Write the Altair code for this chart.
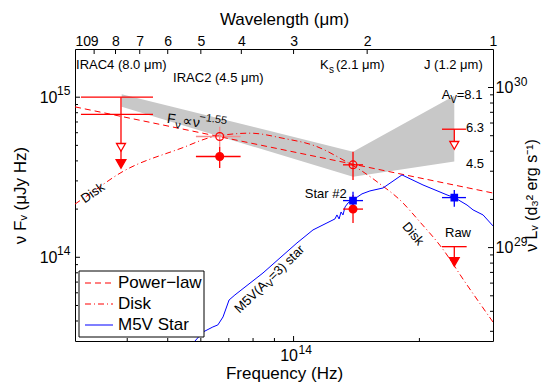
import altair as alt
import pandas as pd

RED = "#ff0000"
BLUE = "#0000ff"
PINK = "#f38d8d"
GRAY = "#c8c8c8"
FONT = "Liberation Sans"

# ---------------- data (frequency in Hz, nuFnu in uJy Hz) ----------------
pl_nu = [3.0e13, 3.0e14]
pl_f = [8.70e14, 2.52e14]

disk_nu = [3.0e13, 3.205e13, 3.887e13, 5.41e13, 6.41e13, 7.87e13, 9.43e13, 1.138e14,
           1.313e14, 1.442e14, 1.610e14, 1.797e14, 2.007e14, 2.265e14, 2.571e14, 3.0e14]
disk_f = [2.15e14, 2.42e14, 3.41e14, 4.82e14, 5.65e14, 5.96e14, 5.54e14, 4.91e14,
          4.06e14, 3.52e14, 2.87e14, 2.28e14, 1.66e14, 1.143e14, 7.01e13, 3.94e13]

star_nu = [5.65e13, 5.81e13, 6.07e13, 6.41e13, 6.59e13, 6.78e13, 7.01e13, 7.24e13, 8.45e13,
           9.28e13, 1.019e14, 1.113e14, 1.202e14, 1.256e14, 1.270e14, 1.285e14, 1.299e14,
           1.313e14, 1.328e14, 1.350e14, 1.387e14, 1.458e14, 1.523e14, 1.637e14, 1.817e14,
           2.040e14, 2.329e14, 2.433e14, 2.600e14, 2.688e14, 2.840e14, 3.0e14]
star_f = [2.64e13, 3.0e13, 3.41e13, 3.67e13, 3.78e13, 4.24e13, 5.41e13, 5.82e13, 7.98e13,
          9.91e13, 1.229e14, 1.482e14, 1.639e14, 1.736e14, 1.839e14, 1.736e14, 1.919e14,
          1.839e14, 2.063e14, 2.186e14, 2.28e14, 2.49e14, 2.597e14, 2.71e14, 3.27e14,
          2.83e14, 2.452e14, 2.35e14, 2.12e14, 1.977e14, 1.839e14, 1.57e14]

band_nu = [3.88e13, 1.3875e14, 2.424e14]
band_lo = [8.72e14, 3.18e14, 3.96e14]
band_hi = [1.045e15, 4.57e14, 1.02e15]

# horizontal bars: nu_lo, nu_hi, value, colour
hb_lo = [3.10e13, 3.10e13, 5.84e13, 5.84e13, 1.313e14, 1.313e14, 2.265e14, 2.265e14, 1.313e14, 2.265e14]
hb_hi = [4.61e13, 4.61e13, 7.47e13, 7.47e13, 1.466e14, 1.466e14, 2.585e14, 2.595e14, 1.466e14, 2.585e14]
hb_f = [1.0e15, 7.8e14, 5.68e14, 4.26e14, 3.78e14, 2.0e14, 6.31e14, 1.165e14, 2.26e14, 2.36e14]
hb_c = [RED, RED, PINK, RED, RED, RED, RED, RED, BLUE, BLUE]

# vertical bars: nu, top, bottom, colour
vb_nu = [3.865e13, 6.657e13, 6.657e13, 1.3875e14, 1.3875e14, 2.424e14, 2.424e14, 1.3875e14, 2.424e14]
vb_hi = [1.0e15, 6.53e14, 4.89e14, 4.57e14, 2.45e14, 6.31e14, 1.165e14, 2.57e14, 2.635e14]
vb_lo = [3.9e14, 4.89e14, 3.61e14, 3.04e14, 1.64e14, 5.0e14, 9.4e13, 2.0e14, 2.07e14]
vb_c = [RED, PINK, RED, RED, RED, RED, RED, BLUE, BLUE]

# markers
mk_nu = [6.657e13, 1.3875e14, 6.657e13, 1.3875e14, 3.865e13, 2.424e14, 3.865e13, 2.424e14, 1.3875e14, 2.424e14]
mk_f = [5.68e14, 3.78e14, 4.26e14, 2.0e14, 4.86e14, 5.0e14, 3.83e14, 9.36e13, 2.26e14, 2.36e14]
mk_shape = ["circle", "circle", "circle", "circle", "triangle-down", "triangle-down",
            "triangle-down", "triangle-down", "square", "square"]
mk_fill = ["transparent", "transparent", RED, RED, "white", "white", RED, RED, BLUE, BLUE]
mk_stroke = [RED, RED, RED, RED, RED, RED, RED, RED, BLUE, BLUE]
mk_size = [60, 60, 60, 60, 80, 80, 95, 95, 40, 40]

# axis ticks
bottom_minor = [4e13, 5e13, 6e13, 7e13, 8e13, 9e13, 2e14]
bottom_major = [1e14]
left_minor = [4e13, 5e13, 6e13, 7e13, 8e13, 9e13, 2e14, 3e14, 4e14, 5e14, 6e14, 7e14, 8e14, 9e14]
left_major = [1e14, 1e15]
right_minor = [3e28, 4e28, 5e28, 6e28, 7e28, 8e28, 9e28, 2e29, 3e29, 4e29, 5e29, 6e29, 7e29, 8e29, 9e29]
right_major = [1e29, 1e30]
top_ticks = [9, 8, 7, 6, 5, 4, 3, 2]
top_labels = [10, 9, 8, 7, 6, 5, 4, 3, 2, 1]

# annotations: nu, f, text, size, align, angle, dx, dy
annotations = [
    (3.017e13, 1.59e15, "IRAC4 (8.0 μm)", 13, "left", 0, 0, 0),
    (5.15e13, 1.32e15, "IRAC2 (4.5 μm)", 13, "left", 0, 0, 0),
    (1.157e14, 1.59e15, "K", 13, "left", 0, 0, 0),
    (1.157e14, 1.59e15, "s", 10, "left", 0, 9, 5),
    (1.157e14, 1.59e15, "(2.1 μm)", 13, "left", 0, 16, 0),
    (2.051e14, 1.59e15, "J (1.2 μm)", 13, "left", 0, 0, 0),
    (2.262e14, 1.034e15, "A", 13, "left", 0, 0, 0),
    (2.262e14, 1.034e15, "V", 10, "left", 0, 8.5, 5),
    (2.262e14, 1.034e15, "=8.1", 13, "left", 0, 15, 0),
    (2.585e14, 6.40e14, "6.3", 13, "left", 0, 0, 0),
    (2.585e14, 3.81e14, "4.5", 13, "left", 0, 0, 0),
    (1.340e14, 2.49e14, "Star #2", 13, "right", 0, 0, 0),
    (2.474e14, 1.42e14, "Raw", 13, "center", 0, 0, 0),
    (3.31e13, 2.52e14, "Disk", 13, "center", 325, 0, 0),
    (1.931e14, 1.40e14, "Disk", 13, "center", 50, 0, 0),
    (7.31e13, 4.62e13, "M5V(A", 13, "left", 316, 0, 0),
    (7.31e13, 4.62e13, "V", 10, "left", 316, 40, 4),
    (7.31e13, 4.62e13, "=3) star", 13, "left", 316, 47, 0),
    (4.98e13, 7.32e14, "F", 14, "left", 8, 0, 0),
    (4.98e13, 7.32e14, "ν", 11, "left", 8, 9, 5),
    (4.98e13, 7.32e14, "∝ν", 14, "left", 8, 16, 0),
    (4.98e13, 7.32e14, "−1.55", 11, "left", 8, 32, -6),
]

W, H = 418, 292

# ---------------- scales / axes ----------------
xs = alt.Scale(type="log", domain=[3e13, 3e14], nice=False)
ys = alt.Scale(type="log", domain=[3e13, 2e15], nice=False)
rs = alt.Scale(type="log", domain=[2.61e28, 1.74e30], nice=False)
ts = alt.Scale(type="log", domain=[1, 10], reverse=True, nice=False)

xaxis = alt.Axis(values=[1e14], labelExpr="'10'", title="Frequency (Hz)", labelPadding=6,
                 labelOffset=-5, labelFontSize=16, titleFontSize=17, titlePadding=2,
                 labelFlush=False, orient="bottom")
yaxis = alt.Axis(values=[1e14, 1e15], labelExpr="'10'", title="ν Fᵥ (μJy Hz)", labelPadding=18,
                 labelFontSize=16, titleFontSize=17, titlePadding=10, labelFlush=False, orient="left")
raxis = alt.Axis(values=[1e29, 1e30], labelExpr="'10'", title="ν Lᵥ (d₃² erg s⁻¹)", labelPadding=2,
                 labelFontSize=16, titleFontSize=16, titlePadding=27, titleAngle=270,
                 labelFlush=False, orient="right")
taxis = alt.Axis(values=top_labels, format="d", title="Wavelength (μm)", labelPadding=1,
                 labelFontSize=14, titleFontSize=17, titlePadding=6, labelFlush=False,
                 labelOverlap=False, orient="top",
                 labelAlign={"condition": {"test": "datum.value == 10", "value": "left"}, "value": "center"})


def X(f="nu"):
    return alt.X(f"{f}:Q", scale=xs, axis=xaxis)


def Y(f="f"):
    return alt.Y(f"{f}:Q", scale=ys, axis=yaxis)


# ---------------- main layers ----------------
band = alt.Chart(pd.DataFrame({"nu": band_nu, "lo": band_lo, "hi": band_hi})).mark_area(
    color=GRAY, opacity=1, clip=True).encode(x=X(), y=Y("lo"), y2=alt.Y2("hi:Q"))

pl_line = alt.Chart(pd.DataFrame({"nu": pl_nu, "f": pl_f})).mark_line(
    color=RED, strokeDash=[6, 4], strokeWidth=1, clip=True).encode(x=X(), y=Y())
disk_line = alt.Chart(pd.DataFrame({"nu": disk_nu, "f": disk_f})).mark_line(
    color=RED, strokeDash=[6, 3, 1, 3], strokeWidth=1, clip=True, interpolate="monotone").encode(x=X(), y=Y())
star_line = alt.Chart(pd.DataFrame({"nu": star_nu, "f": star_f})).mark_line(
    color=BLUE, strokeWidth=1, clip=True).encode(x=X(), y=Y())

hbars = alt.Chart(pd.DataFrame({"lo": hb_lo, "hi": hb_hi, "f": hb_f, "c": hb_c})).mark_rule(
    strokeWidth=1.3).encode(x=X("lo"), x2=alt.X2("hi:Q"), y=Y(), color=alt.Color("c:N", scale=None))
vbars = alt.Chart(pd.DataFrame({"nu": vb_nu, "hi": vb_hi, "lo": vb_lo, "c": vb_c})).mark_rule(
    strokeWidth=1.3).encode(x=X(), y=Y("hi"), y2=alt.Y2("lo:Q"), color=alt.Color("c:N", scale=None))

markers = alt.Chart(pd.DataFrame({"nu": mk_nu, "f": mk_f, "shape": mk_shape, "fill": mk_fill,
                                  "stroke": mk_stroke, "size": mk_size})).mark_point(
    strokeWidth=1.3, opacity=1).encode(
    x=X(), y=Y(),
    shape=alt.Shape("shape:N", scale=None),
    fill=alt.Fill("fill:N", scale=None),
    stroke=alt.Stroke("stroke:N", scale=None),
    size=alt.Size("size:Q", scale=None))

ann_layers = []
for nu, f, s, size, align, angle, dx, dy in annotations:
    ann_layers.append(
        alt.Chart(pd.DataFrame({"nu": [nu], "f": [f], "t": [s]})).mark_text(
            align=align, baseline="middle", fontSize=size, angle=angle, dx=dx, dy=dy,
            color="black", font=FONT).encode(x=X(), y=Y(), text="t:N"))

# ticks (inward)
bt_min = alt.Chart(pd.DataFrame({"v": bottom_minor})).mark_rule(color="black").encode(
    x=X("v"), y=alt.value(H), y2=alt.value(H - 3))
bt_maj = alt.Chart(pd.DataFrame({"v": bottom_major})).mark_rule(color="black").encode(
    x=X("v"), y=alt.value(H), y2=alt.value(H - 5))
lt_min = alt.Chart(pd.DataFrame({"v": left_minor})).mark_rule(color="black").encode(
    y=Y("v"), x=alt.value(0), x2=alt.value(3))
lt_maj = alt.Chart(pd.DataFrame({"v": left_major})).mark_rule(color="black").encode(
    y=Y("v"), x=alt.value(0), x2=alt.value(5))

# exponents of axis labels
lexp = alt.Chart(pd.DataFrame({"v": [1e14, 1e15], "e": ["14", "15"]})).mark_text(
    align="left", baseline="middle", fontSize=12, dy=-6, font=FONT, color="black").encode(
    y=Y("v"), x=alt.value(-18), text="e:N")
bexp = alt.Chart(pd.DataFrame({"v": [1e14], "e": ["14"]})).mark_text(
    align="left", baseline="middle", fontSize=12, dx=5, font=FONT, color="black").encode(
    x=X("v"), y=alt.value(H + 9), text="e:N")

# legend (box + entries)
legend_box = alt.Chart(pd.DataFrame({"a": [0]})).mark_rect(
    fill="white", stroke="black", strokeWidth=1).encode(
    x=alt.value(4), x2=alt.value(129), y=alt.value(222), y2=alt.value(288))
leg_labels = ["Power−law", "Disk", "M5V Star"]
leg_colors = [RED, RED, BLUE]
leg_dash = [[6, 4], [6, 3, 1, 3], [1, 0]]
leg_y = [234, 255, 276]
leg_layers = []
for lab, col, dash, yy in zip(leg_labels, leg_colors, leg_dash, leg_y):
    d = pd.DataFrame({"a": [0]})
    leg_layers.append(alt.Chart(d).mark_rule(color=col, strokeDash=dash, strokeWidth=1.2).encode(
        x=alt.value(10), x2=alt.value(38), y=alt.value(yy)))
    leg_layers.append(alt.Chart(d).mark_text(align="left", baseline="middle", fontSize=17,
                                             font=FONT, color="black").encode(
        x=alt.value(43), y=alt.value(yy), text=alt.value(lab)))

main = alt.layer(band, pl_line, disk_line, star_line, hbars, vbars, markers,
                 bt_min, bt_maj, lt_min, lt_maj, lexp, bexp, *ann_layers,
                 legend_box, *leg_layers)

# right axis (nu L_nu)
RY = lambda f="v": alt.Y(f"{f}:Q", scale=rs, axis=raxis)
rt_min = alt.Chart(pd.DataFrame({"v": right_minor})).mark_rule(color="black").encode(
    y=RY(), x=alt.value(W), x2=alt.value(W - 3))
rt_maj = alt.Chart(pd.DataFrame({"v": right_major})).mark_rule(color="black").encode(
    y=RY(), x=alt.value(W), x2=alt.value(W - 5))
rexp = alt.Chart(pd.DataFrame({"v": [1e29, 1e30], "e": ["29", "30"]})).mark_text(
    align="left", baseline="middle", fontSize=12, dy=-6, font=FONT, color="black").encode(
    y=RY(), x=alt.value(W + 21), text="e:N")
right = alt.layer(rt_min, rt_maj, rexp)

# top axis (wavelength)
top = alt.Chart(pd.DataFrame({"lam": top_ticks})).mark_rule(color="black").encode(
    x=alt.X("lam:Q", scale=ts, axis=taxis), y=alt.value(0), y2=alt.value(5))

chart = alt.layer(main, right, top).resolve_scale(x="independent", y="independent").properties(
    width=W, height=H,
    autosize=alt.AutoSizeParams(type="none"),
    padding={"left": 67, "top": 41, "right": 48, "bottom": 41},
).configure_view(stroke="black", strokeWidth=1).configure_axis(
    labelFont=FONT, titleFont=FONT, labelColor="black", titleColor="black",
    titleFontWeight="normal", grid=False, domain=False, ticks=False, tickSize=0)

chart.save("out.html", embed_options={"renderer": "svg", "actions": False})
